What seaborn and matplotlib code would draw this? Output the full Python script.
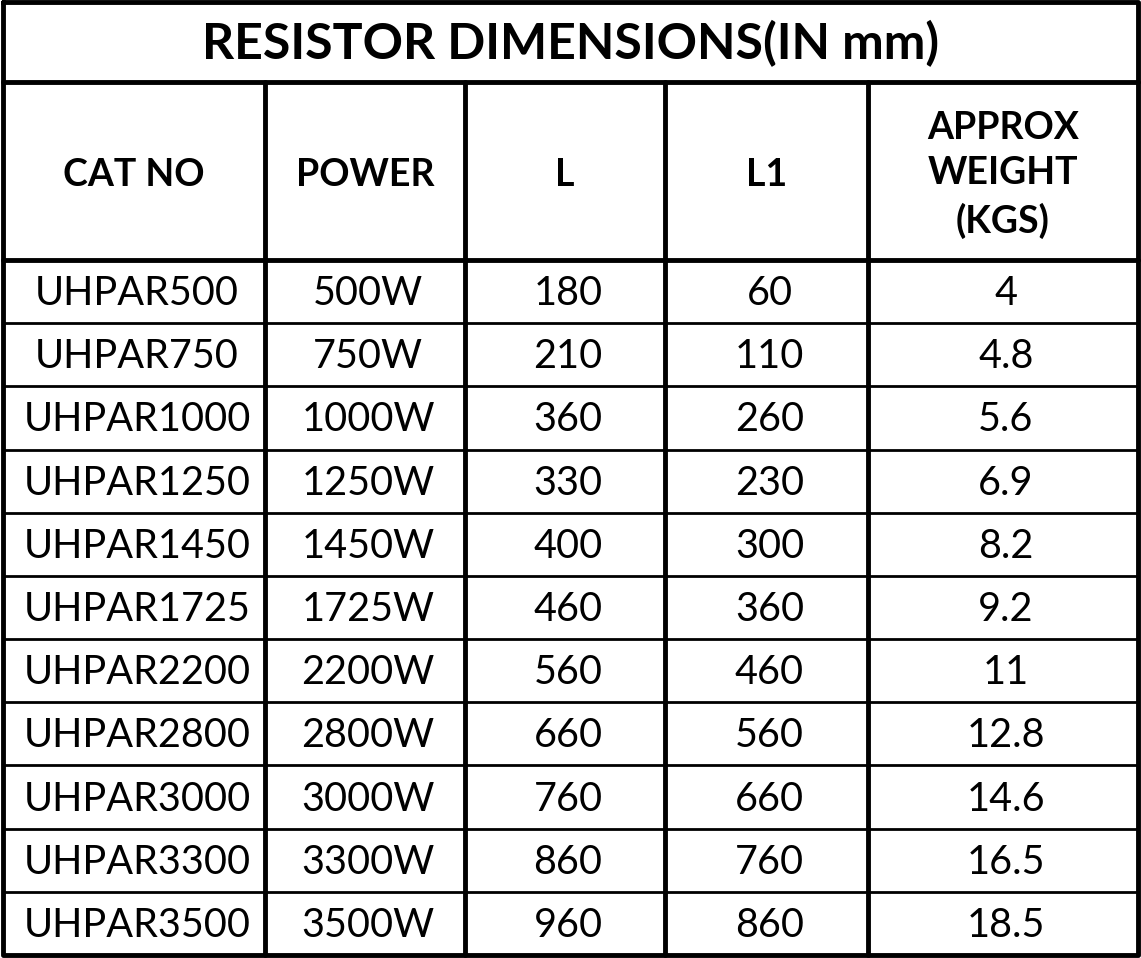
import matplotlib
matplotlib.use("Agg")
import matplotlib.pyplot as plt
import seaborn as sns

sns.set_theme(style="white")
plt.rcParams['font.family'] = ['Lato', 'DejaVu Sans']

title = "RESISTOR DIMENSIONS(IN mm)"
headers = ["CAT NO", "POWER", "L", "L1", "APPROX\nWEIGHT\n(KGS)"]
cat_no = ["UHPAR500", "UHPAR750", "UHPAR1000", "UHPAR1250", "UHPAR1450", "UHPAR1725",
          "UHPAR2200", "UHPAR2800", "UHPAR3000", "UHPAR3300", "UHPAR3500"]
power = ["500W", "750W", "1000W", "1250W", "1450W", "1725W", "2200W", "2800W", "3000W", "3300W", "3500W"]
L = [180, 210, 360, 330, 400, 460, 560, 660, 760, 860, 960]
L1 = [60, 110, 260, 230, 300, 360, 460, 560, 660, 760, 860]
weight = ["4", "4.8", "5.6", "6.9", "8.2", "9.2", "11", "12.8", "14.6", "16.5", "18.5"]

W, H = 1141, 958
fig = plt.figure(figsize=(W/100, H/100), dpi=100)
ax = fig.add_axes([0, 0, 1, 1])
ax.set_xlim(0, W); ax.set_ylim(H, 0); ax.axis('off')

xs = [3, 265, 465, 665, 868, 1138]
y_title_bot = 82
y_head_bot = 260
y_end = 955
nrows = len(cat_no)
rh = (y_end - y_head_bot) / nrows
lw = 3.5

ax.plot([xs[0], xs[-1], xs[-1], xs[0], xs[0]], [2, 2, y_end, y_end, 2], color='black', lw=lw)
ax.plot([xs[0], xs[-1]], [y_title_bot]*2, color='black', lw=lw)
ax.plot([xs[0], xs[-1]], [y_head_bot]*2, color='black', lw=lw)
for x in xs[1:-1]:
    ax.plot([x, x], [y_title_bot, y_end], color='black', lw=lw)
for i in range(1, nrows):
    y = y_head_bot + i*rh
    ax.plot([xs[0], xs[-1]], [y, y], color='black', lw=2)

ax.text(W/2, 44, title, ha='center', va='center', fontsize=36, fontweight='bold', color='black')
for j, h in enumerate(headers):
    ax.text((xs[j]+xs[j+1])/2, (y_title_bot+y_head_bot)/2 + 4, h, ha='center', va='center',
            fontsize=27, fontweight='bold', color='black', linespacing=1.4)

cols = [cat_no, power, [str(v) for v in L], [str(v) for v in L1], weight]
for j, col in enumerate(cols):
    for i, v in enumerate(col):
        ax.text((xs[j]+xs[j+1])/2 + 3, y_head_bot + (i+0.5)*rh + 2, v, ha='center', va='center',
                fontsize=28.5, color='black')

fig.savefig("out.png", dpi=100)
